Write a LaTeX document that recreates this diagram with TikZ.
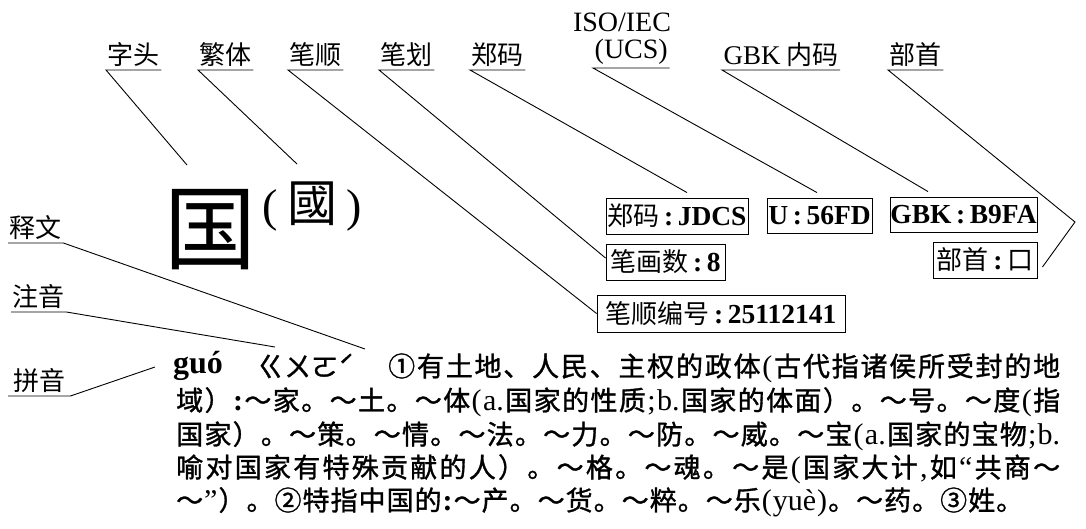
\documentclass[tikz,border=0pt]{standalone}
\usepackage{fontspec}
\setmainfont{Liberation Serif}
\newfontfamily\cjk{Noto Sans CJK SC}
\newfontfamily\cjkb[FakeBold=1.2]{Noto Sans CJK SC}
\usetikzlibrary{calc}
\makeatletter
\def\spr#1{\spr@#1\relax}
\def\spr@#1{\ifx\relax#1\else{#1}\hfil\expandafter\spr@\fi}
\makeatother
\newcommand\fs[1]{\fontsize{#1}{#1}\selectfont}
\newcommand\la{\rmfamily\fs{30}}
\begin{document}
\begin{tikzpicture}[x=1pt,y=-1pt,
  lab/.style={font=\cjk\fs{26}, inner xsep=1.5pt, inner ysep=3pt, anchor=south west},
  boxx/.style={draw, line width=0.9pt, inner sep=0pt, font=\fs{27.5}},
  ln/.style={line width=0.9pt},
  body/.style={font=\cjkb\fs{27}, inner sep=0pt, anchor=west}]
\useasboundingbox[fill=white] (0,0) rectangle (1086,528);

% top labels
\node[lab] (zt) at (106,70) {字头};
\node[lab] (ft) at (198,70) {繁体};
\node[lab] (bsx) at (288,70) {笔顺};
\node[lab] (bh) at (379,70) {笔划};
\node[lab] (zml) at (470,70) {郑码};
\node[lab, font=\fs{28}] (ucs) at (593,68) {(UCS)};
\node[font=\fs{28}, inner sep=0pt] (iso) at (622,22) {ISO/IEC};
\node[lab] (gbkl) at (722,70) {{\rmfamily\fs{27}GBK} 内码};
\node[lab] (bsl) at (888,70) {部首};

% headword
\node[font=\cjk\fs{92}, inner sep=0pt] (gz) at (210,230) {国};
\node[inner sep=0pt] (fz) at (312,207) {\hbox to 99pt{{\fs{46}(}\hfil{\cjk\fs{50}國}\hfil{\fs{46})}}};

% boxes
\node[boxx, minimum width=142pt, minimum height=36pt] (zm) at (677,216) {{\cjk\fs{26}郑码}\,{\bfseries :\,JDCS}};
\node[boxx, minimum width=105pt, minimum height=35pt] (uc) at (819.5,215.5) {\bfseries U\,:\,56FD};
\node[boxx, minimum width=147pt, minimum height=35pt] (gbk) at (963.5,214.5) {\bfseries GBK\,:\,B9FA};
\node[boxx, minimum width=119pt, minimum height=36pt] (bhs) at (665.5,262) {{\cjk\fs{26}笔画数}\,{\bfseries :\,8}};
\node[boxx, minimum width=104pt, minimum height=36pt] (bsb) at (985,260) {{\cjk\fs{26}部首}\,{\bfseries :}\,{\cjk\fs{26}口}};
\node[boxx, minimum width=248pt, minimum height=37pt] (bsbh) at (721,313.5) {{\cjk\fs{26}笔顺编号}\,{\bfseries :\,25112141}};

% left labels
\node[lab] (sw) at (8,243) {释文};
\node[lab] (zy) at (11,312) {注音};
\node[lab, inner xsep=5pt] (py) at (8,396) {拼音};

% body text
\node[body, font=\rmfamily\bfseries\fs{32}] (guo) at (173,366) {guó};
\node[body] (zhu) at (257,366) {ㄍㄨㄛˊ};
\node[body] (l1) at (388,368) {\hbox to 672pt{\spr{①有土地、人民、主权的政体{\la(}古代指诸侯所受封的地}\unskip}};
\node[body] (l2) at (176,402) {\hbox to 884pt{\spr{域）{\la\bfseries:}～家。～土。～体{\la(}{\la a.}国家的性质{\la;}{\la b.}国家的体面）。～号。～度{\la(}指}\unskip}};
\node[body] (l3) at (176,436) {\hbox to 884pt{\spr{国家）。～策。～情。～法。～力。～防。～威。～宝{\la(}{\la a.}国家的宝物{\la;}{\la b.}}\unskip}};
\node[body] (l4) at (176,469) {\hbox to 884pt{\spr{喻对国家有特殊贡献的人）。～格。～魂。～是{\la(}国家大计{\la,}如{\la“}共商～}\unskip}};
\node[body] (l5) at (176,502) {\hbox to 847pt{\spr{～{\la”}）。②特指中国的{\la\bfseries:}～产。～货。～粹。～乐{\la(}{\la yuè}{\la)}。～药。③姓。}\unskip}};

% free ends
\coordinate (c1) at (187,165);
\coordinate (c2) at (297,164);
\coordinate (c3) at (365,349);
\coordinate (c4) at (275,347);
\coordinate (c5) at (155,367);
\coordinate (c6) at (1075,222);

% underlines and connectors
\draw[ln] (zt.south east) -- (zt.south west) -- (c1);
\draw[ln] (ft.south east) -- (ft.south west) -- (c2);
\draw[ln] (bsx.south east) -- (bsx.south west) -- (bsbh.west);
\draw[ln] (bh.south east) -- (bh.south west) -- ($(bhs.west)+(0,-4)$);
\draw[ln] (zml.south east) -- (zml.south west) -- ($(zm.north)+(10,-5)$);
\draw[ln] (ucs.south east) -- (ucs.south west) -- ($(uc.north)+(-2.5,-5)$);
\draw[ln] (gbkl.south east) -- (gbkl.south west) -- ($(gbk.north)+(-35.5,-5)$);
\draw[ln] (bsl.south east) -- (bsl.south west) -- (c6) -- ($(bsb.east)+(5,7)$);
\draw[ln] (sw.south west) -- (sw.south east) -- (c3);
\draw[ln] (zy.south west) -- (zy.south east) -- (c4);
\draw[ln] (py.south west) -- (py.south east) -- (c5);
\end{tikzpicture}
\end{document}
